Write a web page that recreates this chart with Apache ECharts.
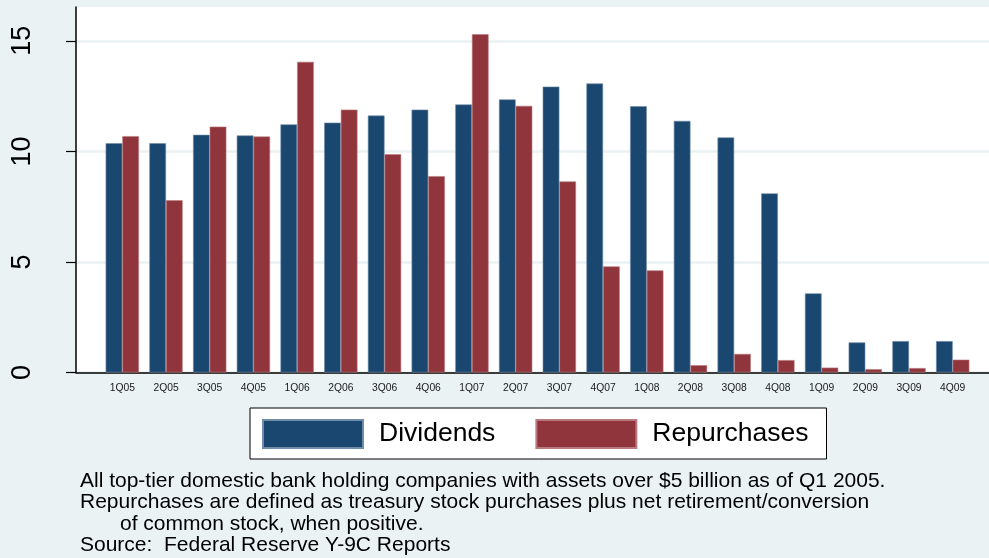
<!DOCTYPE html>
<html>
<head>
<meta charset="utf-8">
<script src="https://cdn.jsdelivr.net/npm/echarts@6/dist/echarts.min.js"></script>
<style>html,body{margin:0;padding:0;background:#eaf2f3;}#c{width:989px;height:558px;}</style>
</head>
<body>
<div id="c"></div>
<script>
const categories = ['1Q05','2Q05','3Q05','4Q05','1Q06','2Q06','3Q06','4Q06','1Q07','2Q07','3Q07','4Q07','1Q08','2Q08','3Q08','4Q08','1Q09','2Q09','3Q09','4Q09'];
const dividends = [10.37,10.37,10.75,10.72,11.22,11.30,11.62,11.89,12.12,12.35,12.93,13.07,12.04,11.38,10.63,8.10,3.58,1.36,1.42,1.42];
const repurchases = [10.69,7.79,11.12,10.67,14.05,11.89,9.87,8.88,15.30,12.06,8.64,4.80,4.62,0.33,0.84,0.56,0.22,0.15,0.20,0.58];
const yTicks = [0,5,10,15];
const noteLines = [
  'All top-tier domestic bank holding companies with assets over $5 billion as of Q1 2005.',
  'Repurchases are defined as treasury stock purchases plus net retirement/conversion',
  'of common stock, when positive.',
  'Source:  Federal Reserve Y-9C Reports'
];

const FONT = '"Liberation Sans", Arial, Helvetica, sans-serif';
const YMAX = 16.53;
const chart = echarts.init(document.getElementById('c'), null, {renderer:'canvas'});
chart.setOption({
  backgroundColor: '#eaf2f3',
  animation: false,
  textStyle: {fontFamily: FONT},
  grid: [
    {left: 76, right: 0, top: 7, bottom: 185.5, show: true, backgroundColor: '#ffffff', borderWidth: 0, z: 0},
    {left: 100.45, right: 14.45, top: 7, bottom: 185.5}
  ],
  xAxis: [
    {type: 'value', gridIndex: 0, min: 0, max: 1, show: true,
     axisLine: {show: true, onZero: false, lineStyle: {color: '#000', width: 1.5}},
     axisTick: {show: false}, axisLabel: {show: false}, splitLine: {show: false}},
    {type: 'category', gridIndex: 1, data: categories,
     axisLine: {show: false}, axisTick: {show: false}, splitLine: {show: false},
     axisLabel: {fontSize: 10.3, color: '#1a1a1a', margin: 11, interval: 0, fontFamily: FONT}}
  ],
  yAxis: [
    {type: 'value', gridIndex: 0, min: 0, max: YMAX,
     axisLine: {show: true, lineStyle: {color: '#000', width: 1.5}},
     axisTick: {show: true, length: 10, customValues: yTicks, lineStyle: {color: '#000', width: 1.2}},
     axisLabel: {customValues: yTicks, rotate: 90, fontSize: 27, color: '#000', margin: 40, fontFamily: FONT},
     splitLine: {show: true, lineStyle: {color: '#eaf2f3', width: 2.5}}},
    {type: 'value', gridIndex: 1, min: 0, max: YMAX, show: false}
  ],
  legend: {
    data: ['Dividends', 'Repurchases'],
    left: 250, top: 408,
    orient: 'horizontal',
    itemWidth: 100, itemHeight: 28, itemGap: 40,
    padding: [11, 18, 10, 12],
    borderColor: '#000', borderWidth: 1, backgroundColor: '#ffffff',
    icon: 'rect',
    textStyle: {fontSize: 26.5, color: '#000', lineHeight: 28, padding: [0, 0, 0, 11], fontFamily: FONT}
  },
  series: [
    {name: 'Dividends', type: 'bar', xAxisIndex: 1, yAxisIndex: 1, data: dividends,
     barGap: '0%', barCategoryGap: '23.8%',
     itemStyle: {color: '#1a476f', borderColor: '#6f8ca8', borderWidth: 0.6}},
    {name: 'Repurchases', type: 'bar', xAxisIndex: 1, yAxisIndex: 1, data: repurchases,
     barGap: '0%', barCategoryGap: '23.8%',
     itemStyle: {color: '#90353b', borderColor: '#b87a7e', borderWidth: 0.6}}
  ],
  graphic: [
    {type: 'text', left: 80, top: 471, style: {text: noteLines[0], font: '21px ' + FONT, fill: '#000'}},
    {type: 'text', left: 80, top: 492, style: {text: noteLines[1], font: '21px ' + FONT, fill: '#000'}},
    {type: 'text', left: 120, top: 513.5, style: {text: noteLines[2], font: '21px ' + FONT, fill: '#000'}},
    {type: 'text', left: 80, top: 534.5, style: {text: noteLines[3], font: '21px ' + FONT, fill: '#000'}}
  ]
});
</script>
</body>
</html>
